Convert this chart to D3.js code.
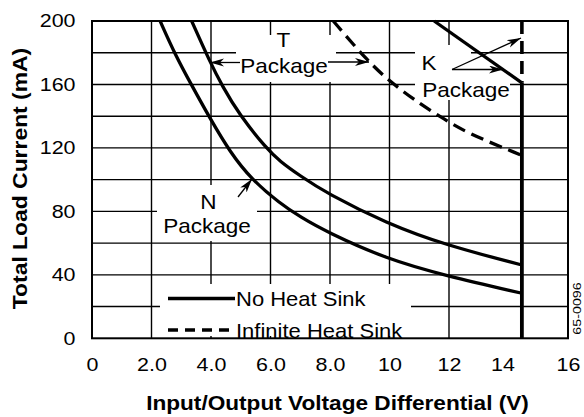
<!DOCTYPE html>
<html>
<head>
<meta charset="utf-8">
<script src="https://cdn.jsdelivr.net/npm/d3@7"></script>
<style>
  body { margin: 0; background: #fff; }
  svg { display: block; font-family: "Liberation Sans", Arial, Helvetica, sans-serif; }
</style>
</head>
<body>
<script>
// axis ticks / labels
const xTicks = [0, 2, 4, 6, 8, 10, 12, 14, 16];
const xTickLabels = ["0", "2.0", "4.0", "6.0", "8.0", "10", "12", "14", "16"];
const yTicks = [0, 40, 80, 120, 160, 200];
const xGrid = [2, 4, 6, 8, 10, 12];
const yGrid = [20, 40, 60, 80, 100, 120, 140, 160, 180];

// curves, [volts, mA]
const nPackageNoSink = [[2.29, 200], [2.79, 179], [3.35, 159.5], [3.94, 139.5], [4.65, 117], [5.37, 100], [6.32, 85], [7.0, 76.5], [7.89, 67], [9.9, 50], [11.88, 39.5], [14.45, 28.4]];
const tPackageNoSink = [[3.35, 200], [3.97, 174], [4.38, 159], [4.95, 141], [5.87, 119.5], [6.32, 111.5], [6.99, 102.5], [7.89, 91.4], [9.9, 72.5], [11.88, 58.8], [14.45, 46.2]];
const tPackageInfSink = [[8.11, 200], [9.23, 175.4], [10.02, 161.7], [11.0, 148], [11.81, 138.5], [12.59, 129.5], [14.45, 115.3]];
const kPackageNoSink = [[11.5, 200], [14.45, 161]];
const kPackageInfSink = [[14.45, 200], [14.45, 161]];
const voltageLimit = [[14.45, 161], [14.45, 0]];

const legendItems = ["No Heat Sink", "Infinite Heat Sink"];

const chart = {
    width: 584,
    height: 417,
    left: 92,
    right: 568,
    top: 21,
    bottom: 338.3
};

const svg = d3.select("body").append("svg")
    .attr("width", chart.width)
    .attr("height", chart.height);

const x = d3.scaleLinear().domain([0, 16]).range([chart.left, chart.right]);
const y = d3.scaleLinear().domain([0, 200]).range([chart.bottom, chart.top]);

// arrow head
svg.append("defs").append("marker")
    .attr("id", "arrow")
    .attr("markerUnits", "userSpaceOnUse")
    .attr("markerWidth", 16)
    .attr("markerHeight", 10)
    .attr("refX", 14)
    .attr("refY", 4)
    .attr("orient", "auto")
    .append("path")
    .attr("d", "M0,0 L14,4 L0,8 L4,4 Z")
    .attr("fill", "#000");

// grid
const grid = svg.append("g").attr("stroke", "#000").attr("stroke-width", 1.4);
grid.selectAll(".vx").data(xGrid).enter().append("line")
    .attr("x1", d => x(d)).attr("x2", d => x(d))
    .attr("y1", chart.top).attr("y2", chart.bottom);
grid.selectAll(".hy").data(yGrid).enter().append("line")
    .attr("x1", chart.left).attr("x2", chart.right)
    .attr("y1", d => y(d)).attr("y2", d => y(d));

// white boxes where the grid is broken for the labels
const masks = [
    [236, 35, 100, 47],   // T Package
    [415, 45, 56, 55],    // K
    [471, 75, 39, 25],    // K Package
    [157, 185, 100, 56],  // N Package
    [160, 284, 251, 52]   // legend
];
svg.append("g").selectAll("rect").data(masks).enter().append("rect")
    .attr("x", d => d[0]).attr("y", d => d[1])
    .attr("width", d => d[2]).attr("height", d => d[3])
    .attr("fill", "#fff");

// frame
svg.append("rect")
    .attr("x", chart.left).attr("y", chart.top)
    .attr("width", chart.right - chart.left).attr("height", chart.bottom - chart.top)
    .attr("fill", "none").attr("stroke", "#000").attr("stroke-width", 2);

// curves
const line = d3.line().x(d => x(d[0])).y(d => y(d[1])).curve(d3.curveBasis);
const straight = d3.line().x(d => x(d[0])).y(d => y(d[1]));

const drawCurve = (data, dashed, gen, w) => {
    svg.append("path")
        .datum(data)
        .attr("d", gen || line)
        .attr("fill", "none")
        .attr("stroke", "#000")
        .attr("stroke-width", w || 3.3)
        .attr("stroke-dasharray", dashed ? "13,7" : null);
};
drawCurve(nPackageNoSink, false);
drawCurve(tPackageNoSink, false);
drawCurve(tPackageInfSink, true);
drawCurve(kPackageNoSink, false, straight);
drawCurve(kPackageInfSink, true, straight, 3.6);
drawCurve(voltageLimit, false, straight, 3.8);

// axes
const sx = 1.16;
const xAxis = d3.axisBottom(x)
    .tickValues(xTicks)
    .tickFormat((d, i) => xTickLabels[i])
    .tickSize(0)
    .tickPadding(20);
const gx = svg.append("g")
    .attr("transform", "translate(0," + chart.bottom + ")")
    .call(xAxis);
gx.select(".domain").remove();
gx.selectAll("text")
    .attr("font-size", 18.5)
    .attr("font-family", null)
    .attr("transform", `scale(${sx},1)`)
    .attr("x", d => d === 14 ? -6 / sx : 0);

const yAxis = d3.axisLeft(y)
    .tickValues(yTicks)
    .tickSize(0)
    .tickPadding(16.5 / sx);
const gy = svg.append("g")
    .attr("transform", "translate(" + chart.left + ",0)")
    .call(yAxis);
gy.select(".domain").remove();
gy.selectAll("text")
    .attr("font-size", 18.5)
    .attr("font-family", null)
    .attr("transform", `scale(${sx},1)`);

// text helper
const label = (px, py, txt, size, opts = {}) => {
    return svg.append("text")
        .attr("transform", `translate(${px},${py}) rotate(${opts.rotate || 0}) scale(${opts.sx || 1.1},1)`)
        .attr("text-anchor", opts.anchor || "middle")
        .attr("font-size", size)
        .attr("font-weight", opts.bold ? "bold" : null)
        .text(txt);
};

label(337.5, 409.5, "Input/Output Voltage Differential (V)", 19.5, { bold: true, sx: 1.16 });
label(26.5, 178.5, "Total Load Current (mA)", 21, { bold: true, rotate: -90, sx: 1.09 });
label(580.5, 308.5, "65-0096", 11, { rotate: -90, sx: 1.3 });

// annotations
label(283.5, 47, "T", 20.5);
label(284, 73, "Package", 20.5);
label(429, 70, "K", 20.5);
label(466, 96.5, "Package", 20.5);
label(208.5, 208.5, "N", 20.5);
label(207, 233, "Package", 20.5);

const arrows = [
    [240, 62.5, 210, 62.5],
    [328, 62, 369, 62],
    [452, 69.5, 521, 38],
    [452, 69.5, 503, 69.5],
    [238, 197, 252, 179]
];
svg.append("g").selectAll("line").data(arrows).enter().append("line")
    .attr("x1", d => d[0]).attr("y1", d => d[1])
    .attr("x2", d => d[2]).attr("y2", d => d[3])
    .attr("stroke", "#000")
    .attr("stroke-width", 1.3)
    .attr("marker-end", "url(#arrow)");

// legend
const legend = svg.append("g");
legendItems.forEach((name, i) => {
    const ly = 298.5 + i * 31.5;
    legend.append("line")
        .attr("x1", 168).attr("x2", 235)
        .attr("y1", ly).attr("y2", ly)
        .attr("stroke", "#000")
        .attr("stroke-width", 3.6)
        .attr("stroke-dasharray", i === 1 ? "10,7" : null);
    label(236, ly + 7.5, name, 20, { anchor: "start", sx: 1.1 });
});
</script>
</body>
</html>
